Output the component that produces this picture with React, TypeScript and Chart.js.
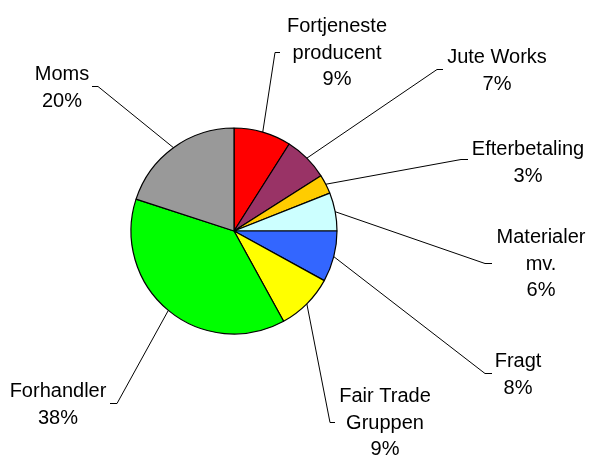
import React, { useEffect, useRef } from "react";
import { Chart, registerables } from "chart.js";

Chart.register(...registerables);

const categories = [
  "Fortjeneste\nproducent",
  "Jute Works",
  "Efterbetaling",
  "Materialer\nmv.",
  "Fragt",
  "Fair Trade\nGruppen",
  "Forhandler",
  "Moms",
];
const values = [9, 7, 3, 6, 8, 9, 38, 20];
const colors = ["#FF0000", "#993366", "#FFCC00", "#CCFFFF", "#3366FF", "#FFFF00", "#00FF00", "#999999"];

// label placement relative to the pie centre (px): elbow of leader, tick end, text centre x, first baseline y
const labelLayout = [
  { ex: 41, ey: -179, tx: 46, cx: 103, by: -199 },
  { ex: 203, ey: -162, tx: 209, cx: 263, by: -168 },
  { ex: 227, ey: -72, tx: 234, cx: 294, by: -76 },
  { ex: 251, ey: 32, tx: 258, cx: 307, by: 12 },
  { ex: 251, ey: 142, tx: 258, cx: 284, by: 136 },
  { ex: 96, ey: 191, tx: 101, cx: 151, by: 171 },
  { ex: -117, ey: 172, tx: -124, cx: -176, by: 166 },
  { ex: -136, ey: -145, tx: -142, cx: -172, by: -151 },
];

const FONT = '20px "Liberation Sans", Arial, sans-serif';
const LINE_H = 26.5;

const labelPlugin = {
  id: "outerLabels",
  afterDatasetsDraw(chart: any) {
    const ctx = chart.ctx;
    const meta = chart.getDatasetMeta(0);
    const data = chart.data.datasets[0].data as number[];
    const total = data.reduce((a, b) => a + b, 0);
    ctx.save();
    ctx.font = FONT;
    ctx.fillStyle = "#000";
    ctx.strokeStyle = "#000";
    ctx.lineWidth = 1;
    ctx.textAlign = "center";
    ctx.textBaseline = "alphabetic";
    meta.data.forEach((arc: any, i: number) => {
      const L = labelLayout[i];
      const { x, y, startAngle, endAngle, outerRadius } = arc.getProps(
        ["x", "y", "startAngle", "endAngle", "outerRadius"],
        true
      );
      const mid = (startAngle + endAngle) / 2;
      const px = x + Math.cos(mid) * outerRadius;
      const py = y + Math.sin(mid) * outerRadius;
      ctx.beginPath();
      ctx.moveTo(px, py);
      ctx.lineTo(x + L.ex, y + L.ey + 0.5);
      ctx.lineTo(x + L.tx, y + L.ey + 0.5);
      ctx.stroke();
      const lines = String(chart.data.labels[i]).split("\n");
      lines.push(Math.round((data[i] / total) * 100) + "%");
      lines.forEach((t, k) => {
        ctx.fillText(t, x + L.cx, y + L.by + k * LINE_H);
      });
    });
    ctx.restore();
  },
};

export default function App() {
  const ref = useRef<HTMLCanvasElement>(null);
  useEffect(() => {
    document.body.style.margin = "0";
    const chart = new Chart(ref.current!, {
      type: "pie",
      data: {
        labels: categories,
        datasets: [
          {
            data: values,
            backgroundColor: colors,
            borderColor: "#000",
            borderWidth: 1.2,
          },
        ],
      },
      options: {
        animation: false,
        responsive: false,
        radius: 103,
        layout: { padding: { left: 0, right: 122, top: 7, bottom: 0 } },
        plugins: { legend: { display: false }, tooltip: { enabled: false } },
      } as any,
      plugins: [labelPlugin],
    });
    return () => chart.destroy();
  }, []);
  return (
    <div style={{ width: 590, height: 455, background: "#fff" }}>
      <canvas ref={ref} width={590} height={455} style={{ display: "block" }} />
    </div>
  );
}
